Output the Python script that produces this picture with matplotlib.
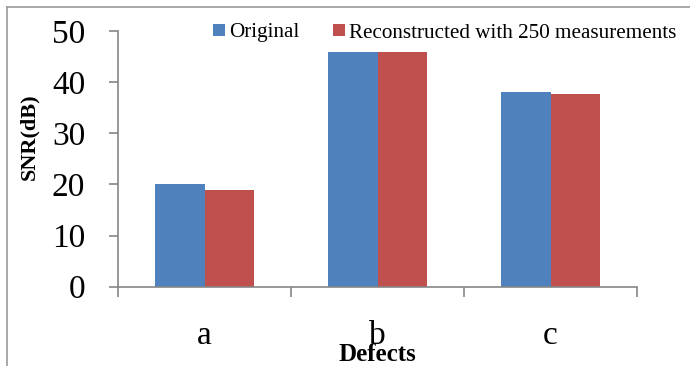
import numpy as np
import matplotlib.pyplot as plt
from matplotlib.lines import Line2D

# datos
categorias = ['a', 'b', 'c']
original = [20.0, 45.9, 38.0]
reconstruida = [19.0, 45.8, 37.7]
series = ['Original', 'Reconstructed with 250 measurements']
colores = ['#4F81BD', '#C0504D']
yticks = [0, 10, 20, 30, 40, 50]

plt.rcParams['font.family'] = ['Liberation Serif', 'DejaVu Serif']

fig = plt.figure(figsize=(6.9, 3.66), dpi=100)
ax = fig.add_axes([118/690, 79.3/366, 519/690, 255.7/366])

x = np.arange(len(categorias))
w = 0.287
ax.bar(x - w/2, original, w, color=colores[0], label=series[0])
ax.bar(x + w/2, reconstruida, w, color=colores[1], label=series[1])

ax.set_xlim(-0.5, 2.5)
ax.set_ylim(0, 50)
ax.set_yticks(yticks)
ax.set_xticks(x)
ax.set_xticklabels(categorias)
ax.set_xticks(np.arange(-0.5, 3, 1), minor=True)

gris = '#868686'
for s in ['top', 'right']:
    ax.spines[s].set_visible(False)
for s in ['left', 'bottom']:
    ax.spines[s].set_color(gris)
    ax.spines[s].set_linewidth(1.2)

ax.tick_params(axis='y', direction='out', length=6.5, width=1.2, color=gris,
               labelsize=24, pad=17)
ax.tick_params(axis='x', which='major', length=0, labelsize=24, pad=24)
ax.tick_params(axis='x', which='minor', direction='out', length=7.2, width=1.2, color=gris)

ax.set_ylabel('SNR(dB)', fontsize=16, fontweight='bold')
ax.yaxis.set_label_coords(-0.1715, 0.585)
ax.yaxis.label.set_va('center')
ax.set_xlabel('Defects', fontsize=18, fontweight='bold')
ax.xaxis.set_label_coords(0.5, -0.292)
ax.xaxis.label.set_va('baseline')

fig.legend(loc='center', bbox_to_anchor=(445/690, 1 - 33/366), ncol=2, frameon=False,
           fontsize=15.2, handlelength=0.55, handleheight=0.55, handletextpad=0.2,
           columnspacing=1.6, borderpad=0, borderaxespad=0)

# marco exterior (solo arriba e izquierda visibles)
borde = '#9a9a9a'
fig.add_artist(Line2D([7/690, 7/690], [0, 1 - 7/366], transform=fig.transFigure, color=borde, lw=1.2))
fig.add_artist(Line2D([7/690, 1], [1 - 7/366, 1 - 7/366], transform=fig.transFigure, color=borde, lw=1.2))

fig.savefig('out.png', dpi=100)
